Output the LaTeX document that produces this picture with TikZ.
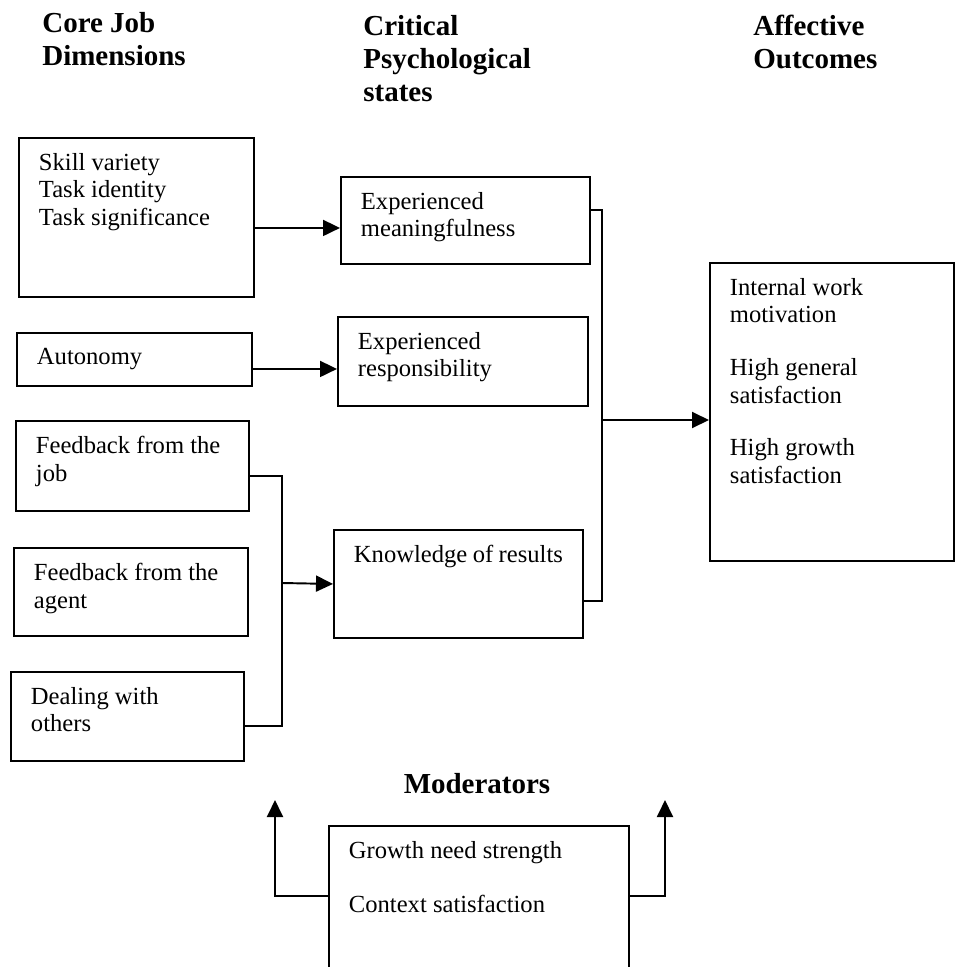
\documentclass[tikz,border=0pt]{standalone}
\usepackage{fontspec}
\setmainfont{Liberation Serif}
\usetikzlibrary{arrows.meta}

\tikzset{
  head/.style={font=\fontsize{16.5}{18.7}\selectfont\bfseries, align=left, anchor=north west, inner sep=0pt},
  box/.style={draw, line width=1.1pt, anchor=north west, inner xsep=0.4cm, inner ysep=0.3cm, font=\fontsize{14}{15.9}\selectfont},
  line/.style={line width=1.1pt},
  arr/.style={line width=1.1pt, -{Triangle[length=0.34cm,width=0.32cm]}}
}
\newcommand{\boxtext}[3]{\parbox[t][#2][t]{#1}{#3}}

\begin{document}
\begin{tikzpicture}[x=0.02cm, y=-0.02cm]
    \useasboundingbox (0,0) rectangle (956,967);

    % column headings
    \node[head] (core) at (42,12) {Core Job\\Dimensions};
    \node[head] (crit) at (363,15) {Critical\\Psychological\\states};
    \node[head] (affect) at (753,15) {Affective\\Outcomes};

    % core job dimensions
    \node[box] (skill) at (18,137) {\boxtext{3.9cm}{2.58cm}{Skill variety\\Task identity\\Task significance}};
    \node[box] (auto) at (16,332) {\boxtext{3.9cm}{0.46cm}{Autonomy}};
    \node[box] (fbjob) at (15,420) {\boxtext{3.86cm}{1.2cm}{Feedback from the\\job}};
    \node[box] (fbagent) at (13,547) {\boxtext{3.88cm}{1.16cm}{Feedback from the\\agent}};
    \node[box] (deal) at (10,671) {\boxtext{3.86cm}{1.18cm}{Dealing with\\others}};

    % critical psychological states
    \node[box] (mean) at (340,176) {\boxtext{4.18cm}{1.14cm}{Experienced\\meaningfulness}};
    \node[box] (resp) at (337,316) {\boxtext{4.2cm}{1.18cm}{Experienced\\responsibility}};
    \node[box] (know) at (333,529) {\boxtext{4.18cm}{1.56cm}{Knowledge of results}};

    % affective outcomes
    \node[box] (outc) at (709,262) {\boxtext{4.08cm}{5.36cm}{Internal work\\motivation\\[14pt]High general\\satisfaction\\[14pt]High growth\\satisfaction}};

    % moderators
    \node[head, anchor=base] (modtitle) at (477,793) {Moderators};
    \node[box] (moder) at (328,825) {\boxtext{5.2cm}{2.8cm}{Growth need strength\\[15pt]Context satisfaction}};

    \coordinate (jl) at (282,583);
    \coordinate (jr) at (602,420);
    \coordinate (ml) at (275,800);
    \coordinate (mr) at (665,800);
    \coordinate (inmean) at ([yshift=-0.15cm]mean.west);
    \coordinate (inresp) at ([yshift=-0.15cm]resp.west);

    \path[arr] (skill.east |- inmean) edge (inmean);
    \path[arr] (auto.east |- inresp) edge (inresp);
    \draw[line] ([yshift=-0.2cm]fbjob.east) -| (jl) |- ([yshift=-0.2cm]deal.east);
    \path[arr] (jl) edge (know.west);
    \draw[line] ([yshift=0.2cm]mean.east) -| (jr) |- ([yshift=-0.34cm]know.east);
    \path[arr] (jr) edge (jr -| outc.west);
    \draw[arr] ([yshift=0.3cm]moder.west) -| (ml);
    \draw[arr] ([yshift=0.3cm]moder.east) -| (mr);

\end{tikzpicture}
\end{document}
